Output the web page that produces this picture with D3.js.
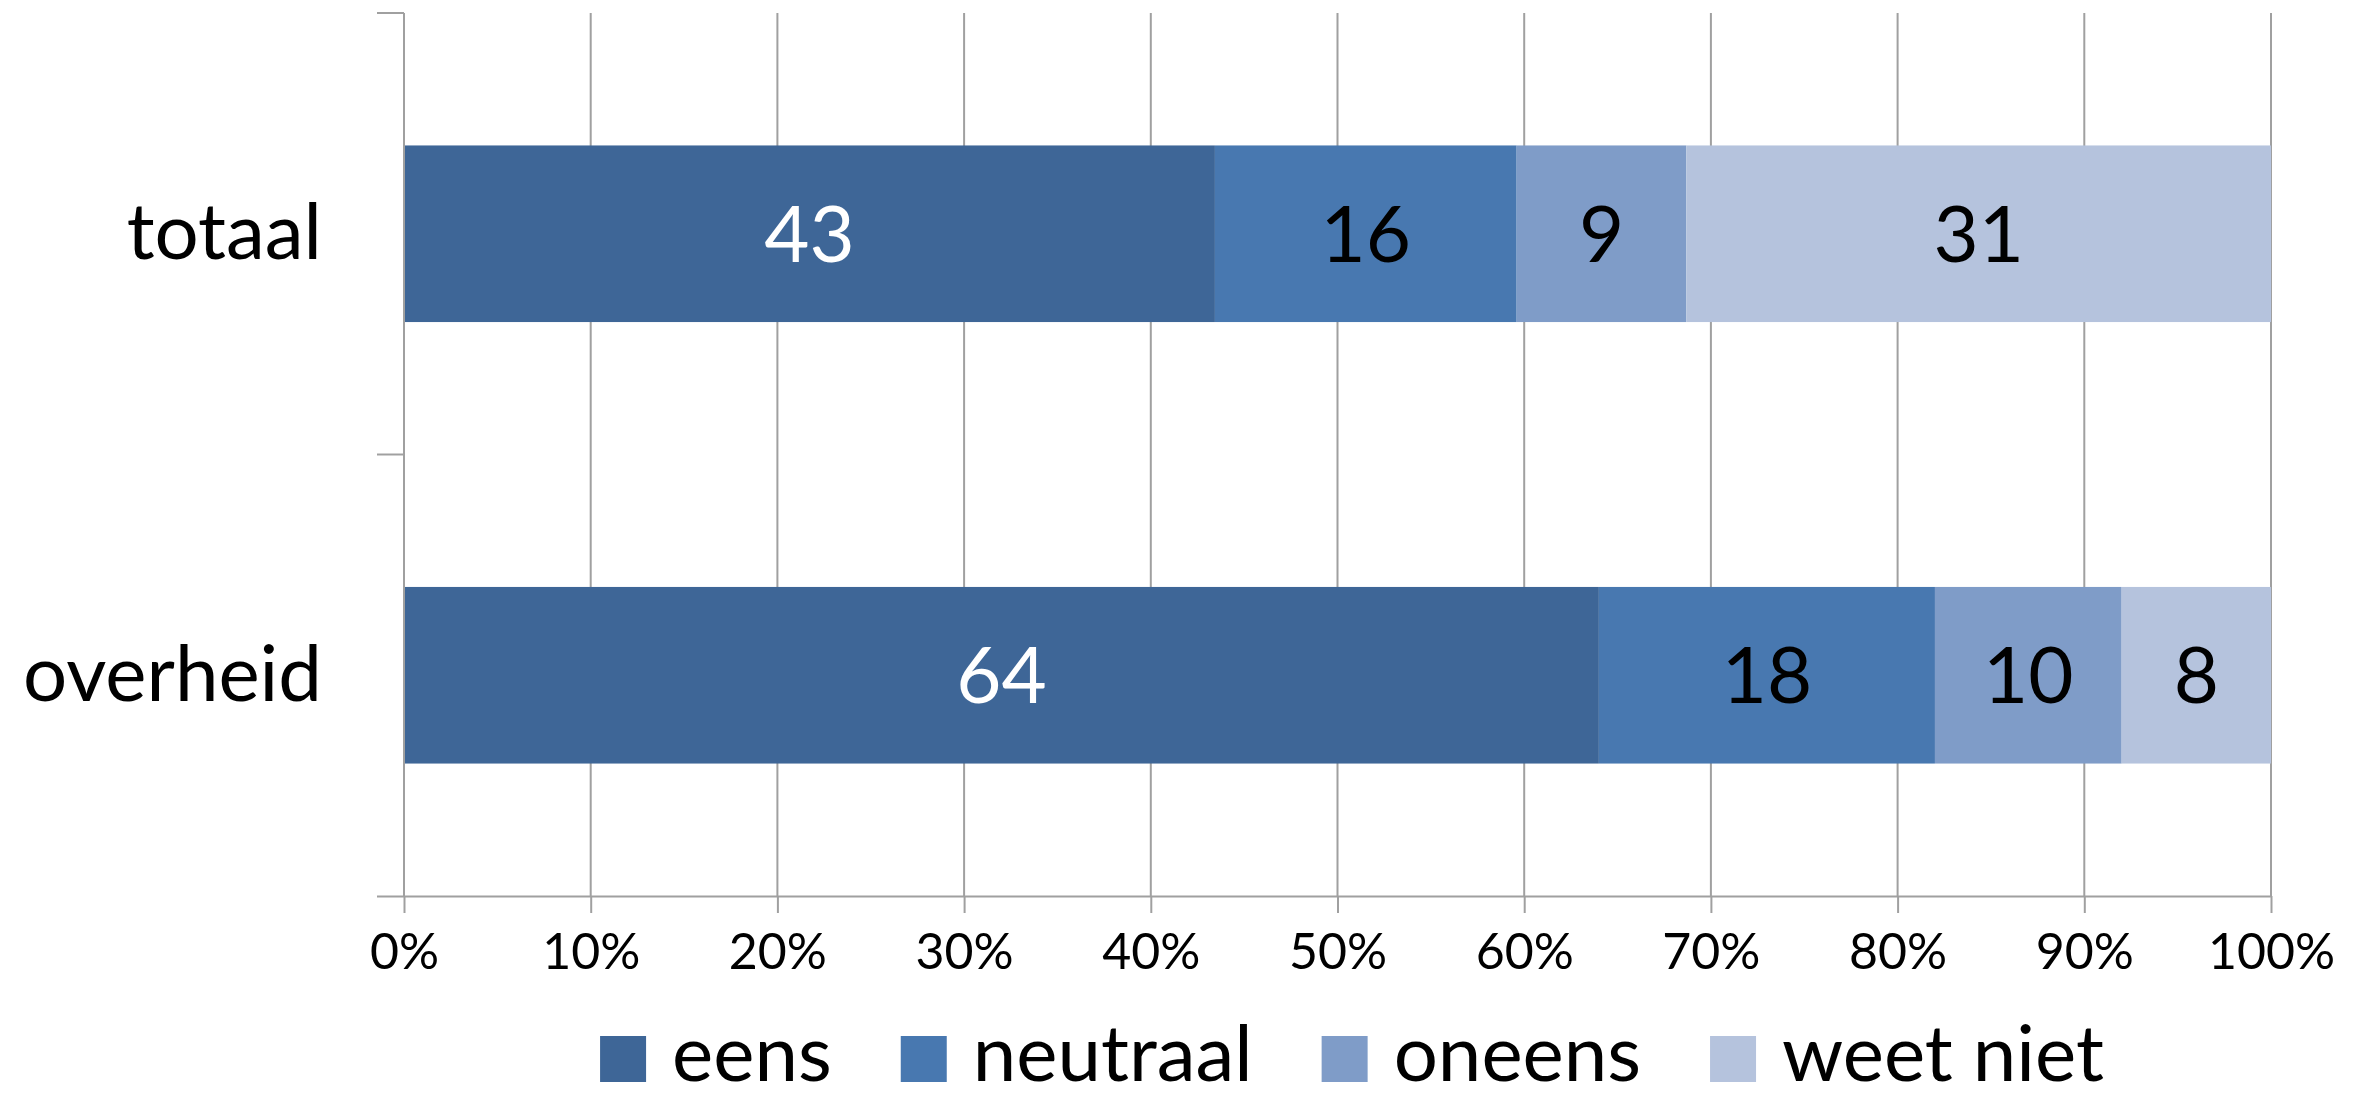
<!DOCTYPE html>
<html>
<head>
<meta charset="utf-8">
<script src="https://cdn.jsdelivr.net/npm/d3@7"></script>
<style>
  html, body { margin: 0; padding: 0; background: #fff; }
  svg { display: block; }
  text { font-family: Lato, "Open Sans", sans-serif; }
</style>
</head>
<body>
<svg id="chart" width="2353" height="1099"></svg>
<script>
const categories = ["totaal", "overheid"];
const seriesNames = ["eens", "neutraal", "oneens", "weet niet"];
const eens = [43, 64];
const neutraal = [16, 18];
const oneens = [9, 10];
const weetNiet = [31, 8];
const tickValues = [0, 0.1, 0.2, 0.3, 0.4, 0.5, 0.6, 0.7, 0.8, 0.9, 1.0];
const colors = ["#3E6697", "#4878B0", "#7F9CC8", "#B5C3DD"];
const labelColors = ["#ffffff", "#000000", "#000000", "#000000"];

(function () {
const seriesValues = [eens, neutraal, oneens, weetNiet];
const rows = categories.map((c, i) => {
  const r = { cat: c };
  seriesNames.forEach((s, j) => r[s] = seriesValues[j][i]);
  return r;
});

const svg = d3.select("#chart");
const pLeft = 404, pRight = 2271, pTop = 13, pBottom = 896;

const x = d3.scaleLinear().domain([0, 1]).range([pLeft, pRight]);
const y = d3.scaleBand().domain(categories).range([pTop, pBottom]).paddingInner(0.6).paddingOuter(0.3);

const grey = "#A0A0A0";

// gridlines
svg.append("g").selectAll("line").data(tickValues.slice(1)).join("line")
  .attr("x1", d => x(d)).attr("x2", d => x(d))
  .attr("y1", pTop).attr("y2", pBottom)
  .attr("stroke", grey).attr("stroke-width", 2);

// stacked bars (normalized)
const stack = d3.stack().keys(seriesNames).offset(d3.stackOffsetExpand);
const stacked = stack(rows);

const gBars = svg.append("g");
stacked.forEach((layer, j) => {
  gBars.append("g").selectAll("rect").data(layer).join("rect")
    .attr("x", d => x(d[0]))
    .attr("width", d => x(d[1]) - x(d[0]))
    .attr("y", d => y(d.data.cat))
    .attr("height", y.bandwidth())
    .attr("fill", colors[j]);
  gBars.append("g").selectAll("text").data(layer).join("text")
    .attr("x", d => (x(d[0]) + x(d[1])) / 2)
    .attr("y", d => y(d.data.cat) + y.bandwidth() / 2)
    .attr("dy", "0.36em")
    .attr("text-anchor", "middle")
    .attr("font-size", 78)
    .attr("fill", labelColors[j])
    .text(d => d.data[seriesNames[j]]);
});

// x axis
const xAxis = d3.axisBottom(x).tickValues(tickValues).tickFormat(d3.format(".0%")).tickSize(17).tickPadding(20);
const gx = svg.append("g").attr("transform", `translate(0,${pBottom})`).call(xAxis);
gx.select(".domain").attr("stroke", grey).attr("stroke-width", 2).attr("d", `M${pLeft - 27},0.5H${pRight}`);
gx.selectAll(".tick line").attr("stroke", grey).attr("stroke-width", 2);
gx.selectAll(".tick text").attr("font-size", 50).attr("fill", "#000").attr("font-family", "Lato, 'Open Sans', sans-serif");

// y axis line and boundary ticks
svg.append("line").attr("x1", pLeft).attr("x2", pLeft).attr("y1", pTop).attr("y2", pBottom)
  .attr("stroke", grey).attr("stroke-width", 2);
const boundaries = [pTop, (y(categories[0]) + y.bandwidth() + y(categories[1])) / 2];
svg.append("g").selectAll("line").data(boundaries).join("line")
  .attr("x1", pLeft - 27).attr("x2", pLeft).attr("y1", d => d).attr("y2", d => d)
  .attr("stroke", grey).attr("stroke-width", 2);

// category labels
svg.append("g").selectAll("text").data(categories).join("text")
  .attr("x", pLeft - 82)
  .attr("y", d => y(d) + y.bandwidth() / 2)
  .attr("dy", "0.33em")
  .attr("text-anchor", "end")
  .attr("font-size", 78)
  .attr("fill", "#000")
  .text(d => d);

// legend
const legend = svg.append("g");
const items = legend.selectAll("g").data(seriesNames).join("g");
items.append("rect").attr("width", 46).attr("height", 46).attr("y", 1036)
  .attr("fill", (d, i) => colors[i]);
items.append("text").attr("x", 72).attr("y", 1081)
  .attr("font-size", 78).attr("fill", "#000").text(d => d);
const widths = [];
items.each(function () {
  widths.push(72 + this.querySelector("text").getComputedTextLength());
});
const totalW = d3.sum(widths) + 69 * (widths.length - 1);
let start = 1352 - totalW / 2;
items.attr("transform", (d, i) => {
  const t = `translate(${start},0)`;
  start += widths[i] + 69;
  return t;
});
})();
</script>
</body>
</html>
